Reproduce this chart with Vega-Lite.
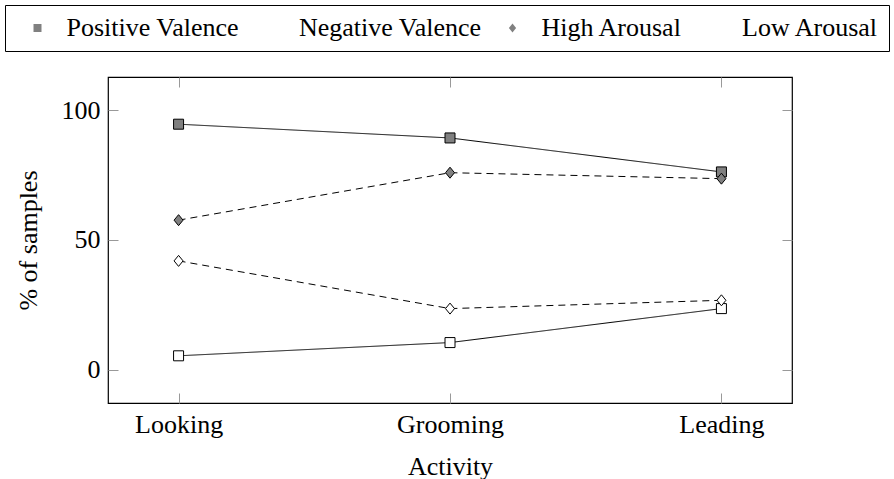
{
  "$schema": "https://vega.github.io/schema/vega-lite/v6.json",
  "width": 684,
  "height": 326,
  "autosize": {"type": "none"},
  "padding": {"left": 108, "top": 77, "right": 102, "bottom": 76},
  "background": "white",
  "config": {
    "view": {"stroke": "black", "strokeWidth": 1.2},
    "font": "Liberation Serif",
    "axis": {
      "labelFont": "Liberation Serif",
      "titleFont": "Liberation Serif",
      "labelFontSize": 26,
      "titleFontSize": 26,
      "labelColor": "black",
      "titleColor": "black",
      "titleFontWeight": "normal",
      "domain": false,
      "grid": false,
      "tickColor": "#999999",
      "tickSize": -10,
      "tickWidth": 1
    },
    "legend": {
      "orient": "none",
      "legendX": -103,
      "legendY": -72,
      "direction": "horizontal",
      "gridAlign": "none",
      "labelFont": "Liberation Serif",
      "labelFontSize": 26,
      "labelColor": "black",
      "labelLimit": 0,
      "strokeColor": "black",
      "padding": 10,
      "symbolSize": 64,
      "symbolOffset": 9.5,
      "labelOffset": 16,
      "columnPadding": 7.5,
      "symbolStrokeWidth": 1,
      "symbolStrokeColor": "black"
    }
  },
  "data": {
    "values": [
      {"activity": "Looking", "series": "Positive Valence", "dimension": "Valence", "value": 94.6},
      {"activity": "Grooming", "series": "Positive Valence", "dimension": "Valence", "value": 89.3},
      {"activity": "Leading", "series": "Positive Valence", "dimension": "Valence", "value": 76.2},
      {"activity": "Looking", "series": "Negative Valence", "dimension": "Valence", "value": 5.3},
      {"activity": "Grooming", "series": "Negative Valence", "dimension": "Valence", "value": 10.4},
      {"activity": "Leading", "series": "Negative Valence", "dimension": "Valence", "value": 23.5},
      {"activity": "Looking", "series": "High Arousal", "dimension": "Arousal", "value": 57.6},
      {"activity": "Grooming", "series": "High Arousal", "dimension": "Arousal", "value": 75.9},
      {"activity": "Leading", "series": "High Arousal", "dimension": "Arousal", "value": 73.6},
      {"activity": "Looking", "series": "Low Arousal", "dimension": "Arousal", "value": 41.9},
      {"activity": "Grooming", "series": "Low Arousal", "dimension": "Arousal", "value": 23.5},
      {"activity": "Leading", "series": "Low Arousal", "dimension": "Arousal", "value": 26.7}
    ]
  },
  "layer": [
    {
      "mark": {"type": "line", "color": "black", "strokeWidth": 1},
      "encoding": {
        "x": {
          "field": "activity",
          "type": "nominal",
          "sort": ["Looking", "Grooming", "Leading"],
          "scale": {"type": "point", "padding": 0.26},
          "axis": {"orient": "bottom", "labelAngle": 0, "title": "Activity", "labelPadding": 18, "titlePadding": 16}
        },
        "y": {
          "field": "value",
          "type": "quantitative",
          "scale": {"domain": [-12.9, 112.8], "nice": false, "zero": false},
          "axis": {"orient": "left", "values": [0, 50, 100], "title": "% of samples", "labelPadding": 18, "titlePadding": 20}
        },
        "detail": {"field": "series"},
        "strokeDash": {
          "field": "dimension",
          "type": "nominal",
          "scale": {"domain": ["Valence", "Arousal"], "range": [[1, 0], [7, 5]]},
          "legend": null
        }
      }
    },
    {
      "mark": {"type": "point", "filled": true, "stroke": "black", "strokeWidth": 1, "size": 100, "opacity": 1},
      "encoding": {
        "x": {
          "field": "activity",
          "type": "nominal",
          "sort": ["Looking", "Grooming", "Leading"],
          "axis": {"orient": "top", "labels": false, "title": null}
        },
        "y": {
          "field": "value",
          "type": "quantitative",
          "axis": {"orient": "right", "values": [0, 50, 100], "labels": false, "title": null}
        },
        "shape": {
          "field": "series",
          "type": "nominal",
          "scale": {
            "domain": ["Positive Valence", "Negative Valence", "High Arousal", "Low Arousal"],
            "range": ["M-1,-1H1V1H-1Z", "M-1,-1H1V1H-1Z", "M0,-1.1L0.9,0L0,1.1L-0.9,0Z", "M0,-1.1L0.9,0L0,1.1L-0.9,0Z"]
          },
          "legend": {
            "title": null,
            "encode": {
              "symbols": {
                "shape": {"value": {"expr": "(datum.value === 'Positive Valence' || datum.value === 'Negative Valence') ? 'M-5.625,0H-1.25M1.25,0H5.625M-1.25,-1.25H1.25V1.25H-1.25Z' : 'M-5.625,0H-3.75M3.75,0H5.625M0,-1.4L1.1,0L0,1.4L-1.1,0Z'"}},
                "fill": {"value": {"expr": "(datum.value === 'Positive Valence' || datum.value === 'High Arousal') ? '#808080' : 'white'"}},
                "stroke": {"value": "black"},
                "opacity": {"value": 1}
              }
            }
          }
        },
        "fill": {
          "field": "series",
          "type": "nominal",
          "scale": {
            "domain": ["Positive Valence", "Negative Valence", "High Arousal", "Low Arousal"],
            "range": ["#808080", "white", "#808080", "white"]
          },
          "legend": {
            "title": null,
            "encode": {
              "symbols": {
                "shape": {"value": {"expr": "(datum.value === 'Positive Valence' || datum.value === 'Negative Valence') ? 'M-5.625,0H-1.25M1.25,0H5.625M-1.25,-1.25H1.25V1.25H-1.25Z' : 'M-5.625,0H-3.75M3.75,0H5.625M0,-1.4L1.1,0L0,1.4L-1.1,0Z'"}},
                "fill": {"value": {"expr": "(datum.value === 'Positive Valence' || datum.value === 'High Arousal') ? '#808080' : 'white'"}},
                "stroke": {"value": "black"},
                "opacity": {"value": 1}
              }
            }
          }
        }
      }
    }
  ],
  "resolve": {"axis": {"x": "independent", "y": "independent"}}
}
